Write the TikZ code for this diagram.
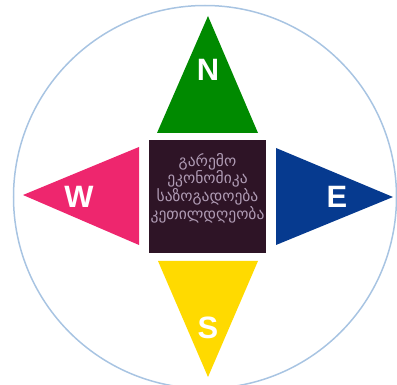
\documentclass[tikz,border=0pt]{standalone}
\usepackage{fontspec}
\setmainfont{Liberation Sans}
\newfontfamily\geofont[Script=Georgian]{DejaVu Sans}
\definecolor{cgreen}{RGB}{0,138,0}
\definecolor{cpink}{RGB}{238,38,110}
\definecolor{cblue}{RGB}{6,58,143}
\definecolor{cyellow}{RGB}{255,218,0}
\definecolor{csq}{RGB}{46,20,38}
\definecolor{ctext}{RGB}{175,155,180}
\definecolor{ccirc}{RGB}{168,196,226}
\begin{document}
\begin{tikzpicture}[x=1bp,y=1bp,
  letter/.style={text=white,font=\fontsize{31}{31}\selectfont\bfseries,inner sep=0pt}]
\useasboundingbox (0,0) rectangle (397,385);
\clip (0,0) rectangle (397,385);
\draw[ccirc,line width=1.5bp] (205,188) circle[radius=191.5];
% N
\fill[cgreen] (208,369) -- (258,252) -- (157,252) -- cycle;
% S
\fill[cyellow] (208,8) -- (258,124) -- (158,124) -- cycle;
% W
\fill[cpink] (23,190) -- (139,238) -- (139,140) -- cycle;
% E
\fill[cblue] (393,188) -- (276,237) -- (276,140) -- cycle;
% center
\node[fill=csq,minimum width=117bp,minimum height=113bp,inner sep=0pt,anchor=north west] (c) at (149,245) {};
\node[text=ctext,font=\geofont\fontsize{15.6}{15.4}\selectfont,align=center,inner sep=0pt] (t) at (207.5,197)
  {გარემო\\ეკონომიკა\\საზოგადოება\\კეთილდღეობა};
\node[letter] (n) at (208,315) {N};
\node[letter] (w) at (79,188) {W};
\node[letter] (e) at (337,188) {E};
\node[letter] (s) at (208,57) {S};
\end{tikzpicture}
\end{document}
